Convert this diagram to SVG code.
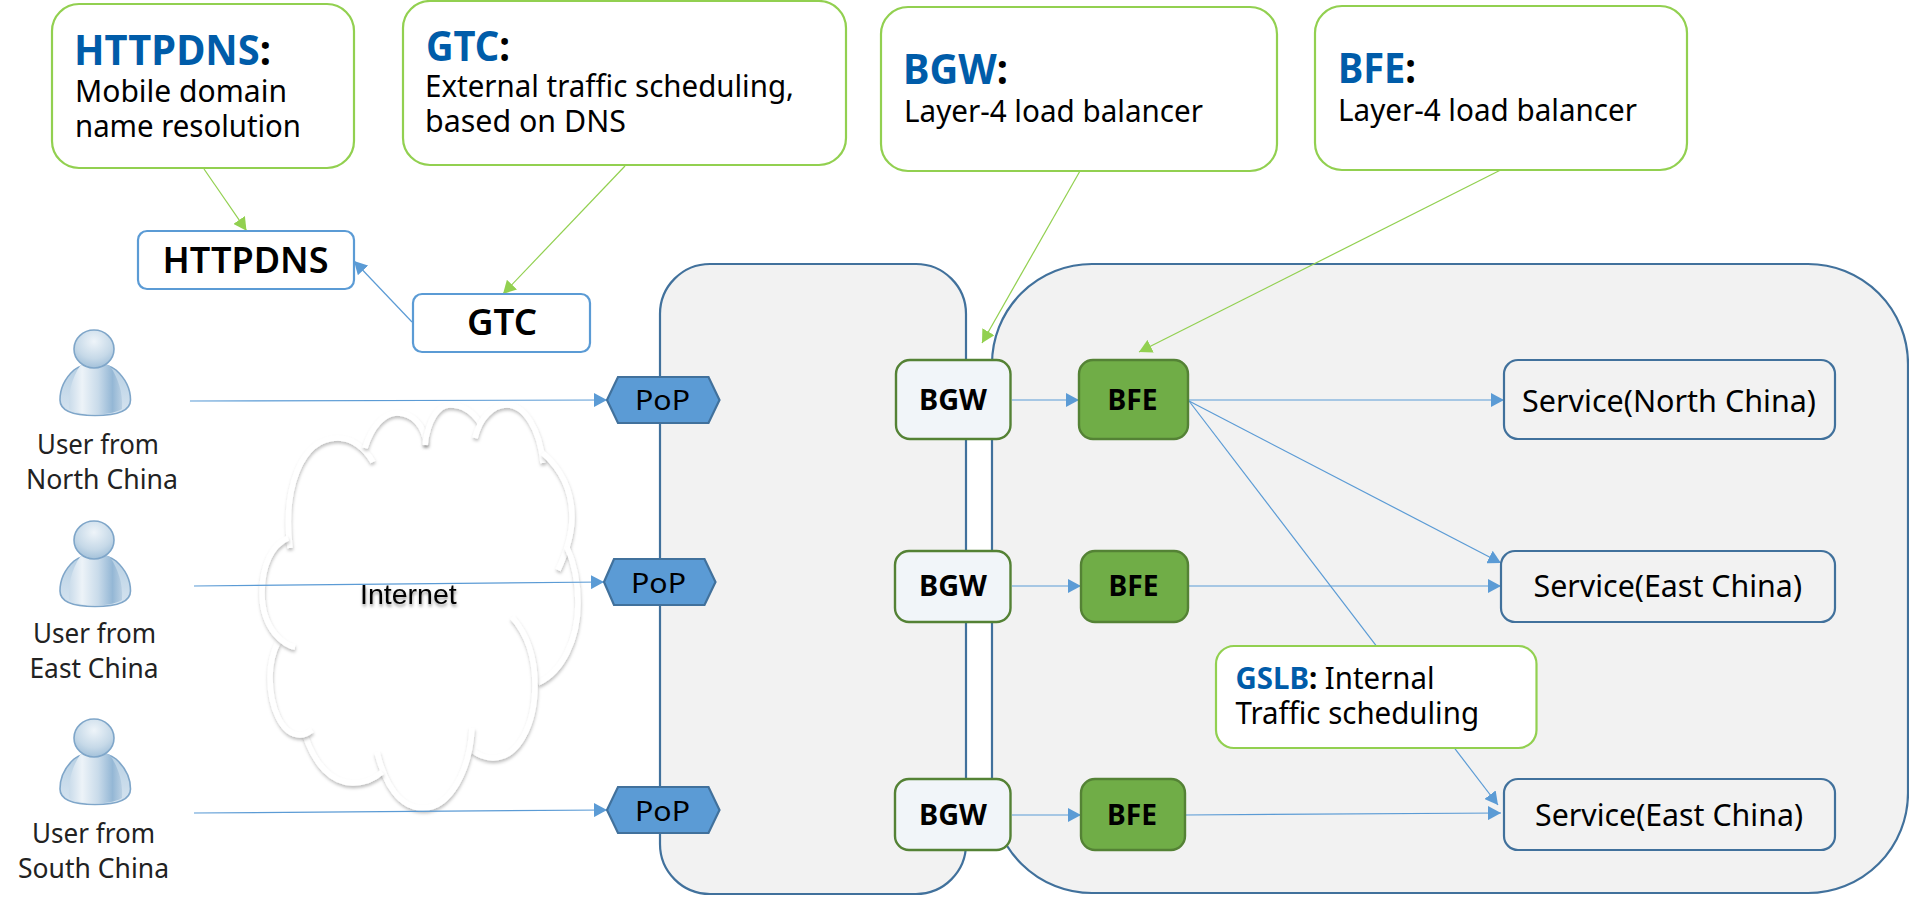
<svg xmlns="http://www.w3.org/2000/svg" xmlns:xlink="http://www.w3.org/1999/xlink" width="1909" height="903" viewBox="0 0 1909 903">
<style>
text{font-family:"Noto Sans","Open Sans","Liberation Sans",sans-serif;fill:#000}
.callout{fill:#fff;stroke:#92D050;stroke-width:2.2}
.panel{fill:#F2F2F2;stroke:#41719C;stroke-width:2.2}
.dns{fill:#fff;stroke:#5B9BD5;stroke-width:2.2}
.pop{fill:#5B9BD5;stroke:#41719C;stroke-width:2.2}
.bgw{fill:#F1F5F9;stroke:#548235;stroke-width:2.4}
.bfe{fill:#70AD47;stroke:#548235;stroke-width:2.4}
.svc{fill:#F2F2F2;stroke:#41719C;stroke-width:2.2}
.t{font-size:31px}
.h{font-size:41px;font-weight:700}
.h tspan{fill:#005CA9}
.g2 tspan.b{fill:#005CA9;font-weight:700}
.nd{font-size:36px;font-weight:600}
.tag{font-size:29px;font-weight:700}
.pp{font-size:28px}
.usr{font-size:28px;fill:#222}
.sv{font-size:31px}
.blue{fill:none;stroke:#5B9BD5;stroke-width:1.2;marker-end:url(#ab)}
.green{fill:none;stroke:#92D050;stroke-width:1.2;marker-end:url(#ag)}
.arc{fill:none;stroke:#fff;stroke-width:5.5;stroke-linecap:butt;filter:url(#sh)}
</style>
<defs>
<marker id="ab" markerUnits="userSpaceOnUse" markerWidth="13" markerHeight="14" refX="13" refY="7" orient="auto"><path d="M0 0L13 7L0 14z" fill="#5B9BD5"/></marker>
<marker id="ag" markerUnits="userSpaceOnUse" markerWidth="13" markerHeight="14" refX="13" refY="7" orient="auto"><path d="M0 0L13 7L0 14z" fill="#92D050"/></marker>
<filter id="sh" x="-30%" y="-30%" width="160%" height="160%"><feDropShadow dx="0.5" dy="2.5" stdDeviation="1.5" flood-color="#000" flood-opacity="0.25"/></filter>
<filter id="ts" x="-10%" y="-30%" width="120%" height="170%"><feDropShadow dx="0.5" dy="2.5" stdDeviation="1.5" flood-color="#000" flood-opacity="0.4"/></filter>
<linearGradient id="bd" x1="0" y1="0" x2="1" y2="0"><stop offset="0" stop-color="#C9DBEA"/><stop offset="0.25" stop-color="#EDF3F8"/><stop offset="0.55" stop-color="#C9DBEA"/><stop offset="0.82" stop-color="#94B7D5"/><stop offset="1" stop-color="#BAD0E3"/></linearGradient>
<radialGradient id="hd" cx="0.5" cy="0.3" r="0.7"><stop offset="0" stop-color="#EEF4F9"/><stop offset="0.65" stop-color="#C6D9E8"/><stop offset="1" stop-color="#A3C1DA"/></radialGradient>
<linearGradient id="ar" x1="0" y1="0" x2="0" y2="1"><stop offset="0" stop-color="#B6CFE3"/><stop offset="1" stop-color="#D6E4F0"/></linearGradient>
<g id="person">
<path d="M74 370C63 380 60 391 60 400C60 410 72 415.500 95 415.500C118 415.500 130.500 410 130.500 400C130.500 391 127 380 116 370C106 362 84 362 74 370Z" fill="url(#ar)" stroke="#7FA6C9" stroke-width="1.6"/>
<path d="M80 366C72 378 68 392 69 409C76 413 85 414.500 95 414.500C105 414.500 115 413 122 409C123 392 118 378 110 366C104 362 86 362 80 366Z" fill="url(#bd)"/>
<ellipse cx="94" cy="349" rx="20" ry="19" fill="url(#hd)" stroke="#7FA6C9" stroke-width="1.6"/>
</g>
</defs>

<g id="panels">
<rect id="panel-left" class="panel" x="660" y="264" width="306" height="630" rx="50"/>
<rect id="panel-right" class="panel" x="992" y="264" width="916" height="629" rx="100"/>
</g>

<g id="cloud">
<path fill="#fff" d="M290 548C283 490 300 438 338 438L365 448C372 425 385 413 397 413C412 413 425 425 425 445C428 420 438 405 450 405C463 405 473 412 478 425C484 412 492 405 507 405C525 405 540 430 543 453C562 470 572 490 572 517C572 530 570 540 567 547C575 565 578 585 578 603C578 640 562 672 538 683C535 725 518 758 493 758C485 758 478 755 472 750C465 785 450 808 423 808C402 808 388 792 382 772C373 780 363 783 353 783C332 783 315 765 305 735C282 735 270 708 270 677C270 664 273 652 278 642C270 630 262 615 262 593C262 565 272 545 288 538Z"/>
<path class="arc" d="M290 548C283 490 300 438 338 438C352 438 365 448 373 462"/>
<path class="arc" d="M365 448C372 425 385 413 397 413C412 413 425 425 426 445"/>
<path class="arc" d="M425 445C428 420 438 405 450 405C463 405 473 412 480 423"/>
<path class="arc" d="M475 438C480 418 492 405 507 405C525 405 540 430 543 463"/>
<path class="arc" d="M543 453C562 470 572 490 572 517C572 535 566 553 558 570"/>
<path class="arc" d="M567 547C575 565 578 585 578 603C578 640 562 672 538 683"/>
<path class="arc" d="M512 617C528 635 535 660 535 685C535 725 518 758 493 758C485 758 478 755 472 750"/>
<path class="arc" d="M472 728C470 770 450 808 423 808C400 808 385 785 377 752"/>
<path class="arc" d="M382 772C373 780 363 783 353 783C332 783 315 765 305 735"/>
<path class="arc" d="M312 730C308 733 304 735 300 735C282 735 270 708 270 677C270 664 273 652 278 642"/>
<path class="arc" d="M295 647C285 646 262 630 262 593C262 565 272 545 288 538"/>
<text x="360" y="604" font-size="28.500" filter="url(#ts)" style="font-family:'Liberation Sans',Arial,sans-serif">Internet</text>
</g>

<g id="connectors">
<path class="green" d="M204 169L246.500 230.700"/>
<path class="green" d="M625 166L503 294"/>
<path class="green" d="M1080 171L982 343"/>
<path class="green" d="M1500.600 170L1139 352"/>
<path class="blue" d="M412 322L354 261"/>
<path class="blue" d="M190 401L607 400"/>
<path class="blue" d="M194 586L604 582"/>
<path class="blue" d="M194 813L607 810"/>
<path class="blue" d="M1012 400L1079 400"/>
<path class="blue" d="M1012 586L1081 586"/>
<path class="blue" d="M1012 815L1081 815"/>
<path class="blue" d="M1188 400L1504 400"/>
<path class="blue" d="M1188 586L1501 586"/>
<path class="blue" d="M1185 815L1501 813"/>
<path class="blue" d="M1189 401L1501 563"/>
<path class="blue" d="M1189 401L1498 805"/>
</g>

<g id="callout-httpdns">
<rect class="callout" x="52" y="4" width="302" height="164" rx="27"/>
<text class="h" x="74" y="65" textLength="197" lengthAdjust="spacingAndGlyphs"><tspan>HTTPDNS</tspan>:</text>
<text class="t" x="75" y="102" textLength="212" lengthAdjust="spacingAndGlyphs">Mobile domain</text>
<text class="t" x="75" y="137" textLength="226" lengthAdjust="spacingAndGlyphs">name resolution</text>
</g>
<g id="callout-gtc">
<rect class="callout" x="403" y="1" width="443" height="164" rx="27"/>
<text class="h" x="426" y="61" textLength="84" lengthAdjust="spacingAndGlyphs"><tspan>GTC</tspan>:</text>
<text class="t" x="425" y="97" textLength="369" lengthAdjust="spacingAndGlyphs">External traffic scheduling,</text>
<text class="t" x="425" y="132" textLength="201" lengthAdjust="spacingAndGlyphs">based on DNS</text>
</g>
<g id="callout-bgw">
<rect class="callout" x="881" y="7" width="396" height="164" rx="27"/>
<text class="h" x="903" y="84" textLength="105" lengthAdjust="spacingAndGlyphs"><tspan>BGW</tspan>:</text>
<text class="t" x="904" y="122" textLength="299" lengthAdjust="spacingAndGlyphs">Layer-4 load balancer</text>
</g>
<g id="callout-bfe">
<rect class="callout" x="1315" y="6" width="372" height="164" rx="27"/>
<text class="h" x="1338" y="83" textLength="78" lengthAdjust="spacingAndGlyphs"><tspan>BFE</tspan>:</text>
<text class="t" x="1338" y="121" textLength="299" lengthAdjust="spacingAndGlyphs">Layer-4 load balancer</text>
</g>

<g id="node-httpdns"><rect class="dns" x="138" y="231" width="216" height="58" rx="9"/><text class="nd" x="162.500" y="273" textLength="166" lengthAdjust="spacingAndGlyphs">HTTPDNS</text></g>
<g id="node-gtc"><rect class="dns" x="413" y="294" width="177" height="58" rx="9"/><text class="nd" x="467" y="335" textLength="70" lengthAdjust="spacingAndGlyphs">GTC</text></g>

<g id="user-north"><use href="#person" xlink:href="#person"/><text class="usr" x="37" y="454" textLength="122" lengthAdjust="spacingAndGlyphs">User from</text><text class="usr" x="26" y="489" textLength="152" lengthAdjust="spacingAndGlyphs">North China</text></g>
<g id="user-east"><use href="#person" xlink:href="#person" y="191"/><text class="usr" x="33" y="643" textLength="123" lengthAdjust="spacingAndGlyphs">User from</text><text class="usr" x="29.500" y="678" textLength="129" lengthAdjust="spacingAndGlyphs">East China</text></g>
<g id="user-south"><use href="#person" xlink:href="#person" y="389"/><text class="usr" x="32" y="843" textLength="123" lengthAdjust="spacingAndGlyphs">User from</text><text class="usr" x="18" y="878" textLength="151" lengthAdjust="spacingAndGlyphs">South China</text></g>

<g id="pop-north"><path class="pop" d="M607 400L618 377H708.500L719.500 400L708.500 423H618Z"/><text class="pp" x="635" y="410" textLength="55" lengthAdjust="spacingAndGlyphs">PoP</text></g>
<g id="pop-east"><path class="pop" d="M604 582L614 559H704.500L715.500 582L704.500 605H614Z"/><text class="pp" x="631" y="593" textLength="55" lengthAdjust="spacingAndGlyphs">PoP</text></g>
<g id="pop-south"><path class="pop" d="M607 810L618 787H708.500L719.500 810L708.500 833H618Z"/><text class="pp" x="635" y="821" textLength="55" lengthAdjust="spacingAndGlyphs">PoP</text></g>

<g id="bgw-1"><rect class="bgw" x="896" y="360" width="114.500" height="79" rx="14"/><text class="tag" x="919" y="410" textLength="68" lengthAdjust="spacingAndGlyphs">BGW</text></g>
<g id="bgw-2"><rect class="bgw" x="895" y="551" width="115.500" height="71" rx="14"/><text class="tag" x="919" y="596" textLength="68" lengthAdjust="spacingAndGlyphs">BGW</text></g>
<g id="bgw-3"><rect class="bgw" x="895" y="779" width="115.500" height="71" rx="14"/><text class="tag" x="919" y="825" textLength="68" lengthAdjust="spacingAndGlyphs">BGW</text></g>

<g id="bfe-1"><rect class="bfe" x="1079" y="360" width="109" height="79" rx="14"/><text class="tag" x="1107.500" y="410" textLength="50" lengthAdjust="spacingAndGlyphs">BFE</text></g>
<g id="bfe-2"><rect class="bfe" x="1081" y="551" width="107" height="71" rx="14"/><text class="tag" x="1108.500" y="596" textLength="50" lengthAdjust="spacingAndGlyphs">BFE</text></g>
<g id="bfe-3"><rect class="bfe" x="1081" y="779" width="104" height="71" rx="14"/><text class="tag" x="1107" y="825" textLength="50" lengthAdjust="spacingAndGlyphs">BFE</text></g>

<g id="service-north"><rect class="svc" x="1504" y="360" width="331" height="79" rx="14"/><text class="sv" x="1522" y="412" textLength="294" lengthAdjust="spacingAndGlyphs">Service(North China)</text></g>
<g id="service-east-1"><rect class="svc" x="1501" y="551" width="334" height="71" rx="14"/><text class="sv" x="1533.500" y="597" textLength="268.500" lengthAdjust="spacingAndGlyphs">Service(East China)</text></g>
<g id="service-east-2"><rect class="svc" x="1504" y="779" width="331" height="71" rx="14"/><text class="sv" x="1535" y="826" textLength="268" lengthAdjust="spacingAndGlyphs">Service(East China)</text></g>

<g id="callout-gslb">
<rect class="callout" x="1216" y="646" width="320.500" height="102" rx="18"/>
<text class="t g2" x="1235.500" y="689" textLength="199" lengthAdjust="spacingAndGlyphs"><tspan class="b">GSLB</tspan><tspan style="font-weight:700">:</tspan> Internal</text>
<text class="t" x="1235.500" y="724" textLength="243.500" lengthAdjust="spacingAndGlyphs">Traffic scheduling</text>
</g>
</svg>
